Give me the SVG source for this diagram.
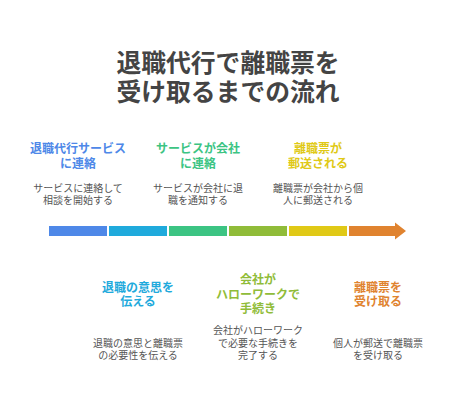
<svg xmlns="http://www.w3.org/2000/svg" width="456" height="414" viewBox="0 0 456 414">
<style>
text{font-family:"Noto Sans CJK JP","Noto Sans",sans-serif;text-anchor:middle}
.title{font-size:24.8px;font-weight:700;fill:#444}
.h{font-size:12px;font-weight:700}
.d{font-size:10px;fill:#555}
.c1{fill:#4E88E8}.c2{fill:#1FAADC}.c3{fill:#3CC483}.c4{fill:#90BC39}.c5{fill:#E0C916}.c6{fill:#E0832F}
</style>
<rect width="456" height="414" fill="#fff"/>
<g id="title">
<text class="title" x="228" y="71.5">退職代行で離職票を</text>
<text class="title" x="228" y="100.5">受け取るまでの流れ</text>
</g>
<g id="connectors">
<rect class="c1" x="49" y="226" width="58" height="10"/>
<rect class="c2" x="109" y="226" width="58" height="10"/>
<rect class="c3" x="169" y="226" width="58" height="10"/>
<rect class="c4" x="229" y="226" width="58" height="10"/>
<rect class="c5" x="289" y="226" width="58" height="10"/>
<polygon class="c6" points="349,226 395,226 395,222.5 406,231 395,239.5 395,236 349,236"/>
</g>
<g id="step1">
<text class="h c1" x="78" y="153">退職代行サービス</text>
<text class="h c1" x="78" y="167.5">に連絡</text>
<text class="d" x="78" y="192">サービスに連絡して</text>
<text class="d" x="78" y="204">相談を開始する</text>
</g>
<g id="step2">
<text class="h c2" x="138" y="291.5">退職の意思を</text>
<text class="h c2" x="138" y="306">伝える</text>
<text class="d" x="138" y="347">退職の意思と離職票</text>
<text class="d" x="138" y="359">の必要性を伝える</text>
</g>
<g id="step3">
<text class="h c3" x="198" y="153">サービスが会社</text>
<text class="h c3" x="198" y="167.5">に連絡</text>
<text class="d" x="198" y="192">サービスが会社に退</text>
<text class="d" x="198" y="204">職を通知する</text>
</g>
<g id="step4">
<text class="h c4" x="258" y="284">会社が</text>
<text class="h c4" x="258" y="298.5">ハローワークで</text>
<text class="h c4" x="258" y="313">手続き</text>
<text class="d" x="258" y="334">会社がハローワーク</text>
<text class="d" x="258" y="346.5">で必要な手続きを</text>
<text class="d" x="258" y="359">完了する</text>
</g>
<g id="step5">
<text class="h c5" x="318" y="153">離職票が</text>
<text class="h c5" x="318" y="167.5">郵送される</text>
<text class="d" x="318" y="192">離職票が会社から個</text>
<text class="d" x="318" y="204">人に郵送される</text>
</g>
<g id="step6">
<text class="h c6" x="378" y="291.5">離職票を</text>
<text class="h c6" x="378" y="306">受け取る</text>
<text class="d" x="378" y="347">個人が郵送で離職票</text>
<text class="d" x="378" y="359">を受け取る</text>
</g>
</svg>
